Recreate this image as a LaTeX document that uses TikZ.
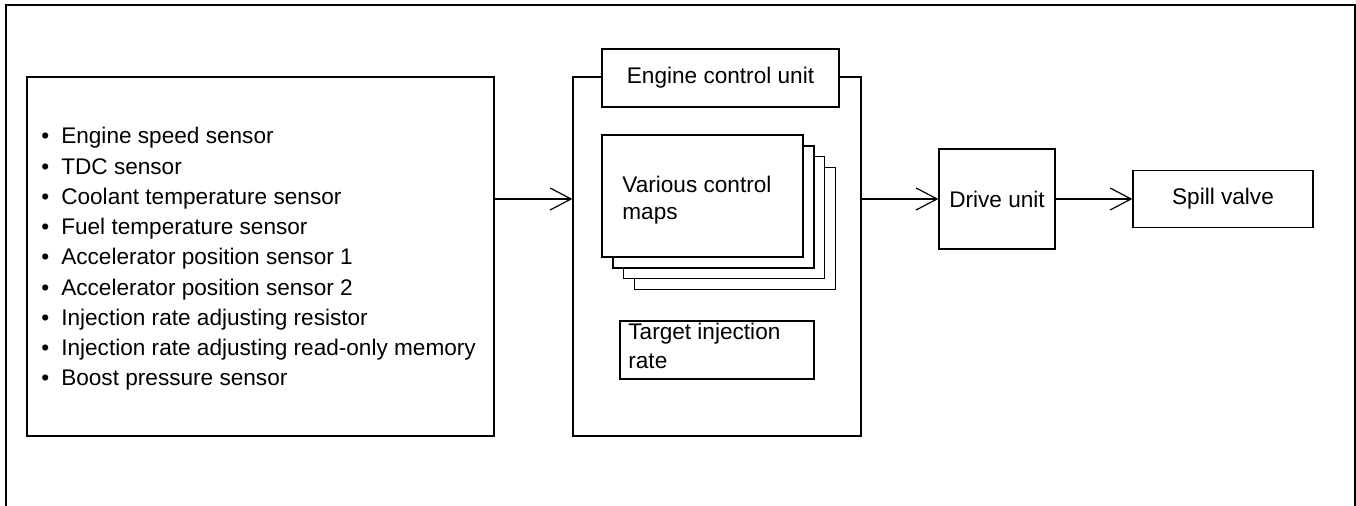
\documentclass[tikz,border=0pt]{standalone}
\usepackage{fontspec}
\setmainfont{Liberation Sans}
\usetikzlibrary{arrows.meta}
\begin{document}
\begin{tikzpicture}[x=0.5pt,y=-0.5pt,
  rbox/.style 2 args={draw, line width=0.6pt, fill=white, inner sep=0pt,
    minimum width=#1*0.5pt, minimum height=#2*0.5pt},
  txt/.style={font=\fontsize{11.3}{13.5}\selectfont, inner sep=0pt},
  arr/.style={line width=0.6pt, -{Straight Barb[length=10.5pt, width=11pt, line width=0.6pt]}},
  frame/.style={line width=0.7pt}]
\useasboundingbox (0,0) rectangle (1356,506);
% outer frame (open at the bottom)
\draw[frame] (6,506) -- (6,5) -- (1355,5) -- (1355,506);
% sensors
\node[rbox={467}{359}] (sensors) at (260.5,256.5) {};
\node[txt, font=\fontsize{11.3}{15.12}\selectfont, anchor=base west] (list) at (41,144)
 {\begin{tabular}[t]{@{}l@{\hspace{6pt}}l@{}}
  \textbullet & Engine speed sensor\\
  \textbullet & TDC sensor\\
  \textbullet & Coolant temperature sensor\\
  \textbullet & Fuel temperature sensor\\
  \textbullet & Accelerator position sensor 1\\
  \textbullet & Accelerator position sensor 2\\
  \textbullet & Injection rate adjusting resistor\\
  \textbullet & Injection rate adjusting read-only memory\\
  \textbullet & Boost pressure sensor
 \end{tabular}};
% engine control unit
\node[rbox={288}{359}] (ecu) at (717,256.5) {};
\node[rbox={237}{58}, txt] (title) at (720.5,78) {Engine control unit};
\node[rbox={201}{122}] (m3) at (735,228.5) {};
\node[rbox={201}{122}] (m2) at (724,217.5) {};
\node[rbox={201}{122}] (m1) at (713.5,207) {};
\node[rbox={201}{122}] (maps) at (702.5,196) {};
\node[txt, anchor=base west] (mapstext) at (622,193)
 {\begin{tabular}[t]{@{}l@{}}Various control\\maps\end{tabular}};
\node[rbox={194}{58}] (target) at (717,350) {};
\node[txt, font=\fontsize{11.3}{14.5}\selectfont, anchor=base west] (targettext) at (628,340)
 {\begin{tabular}[t]{@{}l@{}}Target injection\\rate\end{tabular}};
% drive and spill
\node[rbox={116}{100}, txt] (drive) at (997,199) {Drive unit};
\node[rbox={180}{57}, txt] (spill) at (1223,199) {Spill valve};
% connectors
\draw[arr] (sensors.east |- drive.west) -- (ecu.west |- drive.west);
\draw[arr] (ecu.east |- drive.west) -- (drive.west);
\draw[arr] (drive.east) -- (spill.west);
\end{tikzpicture}
\end{document}
